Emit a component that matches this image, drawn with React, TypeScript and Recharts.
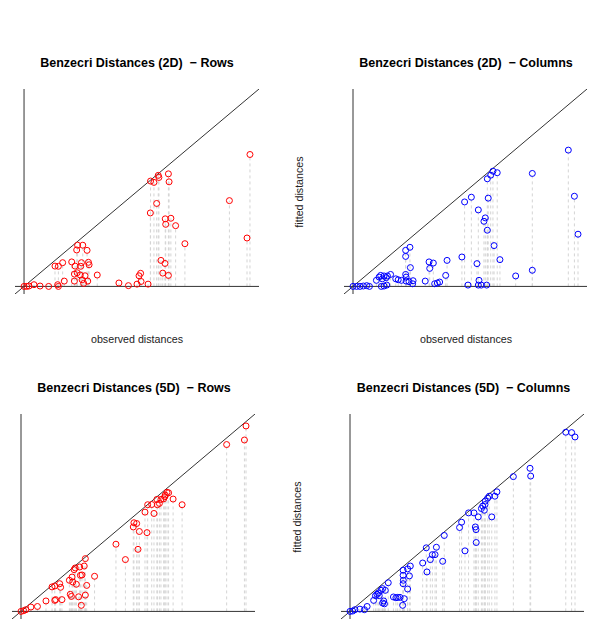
import React from 'react';
import { ScatterChart, Scatter, XAxis, YAxis, ReferenceLine } from 'recharts';

// Pairs of [observed distance, fitted distance], scaled so the largest observed distance is 1.
const rows2D: [number, number][] = [
  [0, 0], [0.012, 0], [0.022, 0.002], [0.044, 0.009], [0.071, 0.002], [0.109, 0], [0.149, 0.009],
  [0.152, 0], [0.178, 0.028], [0.137, 0.107], [0.152, 0.106], [0.171, 0.125], [0.211, 0.129],
  [0.226, 0.107], [0.254, 0.125], [0.251, 0.106], [0.285, 0.127], [0.288, 0.114], [0.237, 0.217],
  [0.26, 0.217], [0.233, 0.192], [0.279, 0.19], [0.223, 0.065], [0.235, 0.072], [0.249, 0.06],
  [0.27, 0.056], [0.223, 0.028], [0.257, 0.035], [0.264, 0.016], [0.282, 0.028], [0.324, 0.06],
  [0.42, 0.018], [0.462, 0.004], [0.5, 0.012], [0.509, 0.056], [0.516, 0.069], [0.518, 0.026],
  [0.549, 0.012], [0.56, 0.555], [0.575, 0.548], [0.594, 0.585], [0.597, 0.574], [0.639, 0.593],
  [0.642, 0.551], [0.587, 0.437], [0.559, 0.387], [0.625, 0.356], [0.65, 0.359], [0.627, 0.327],
  [0.671, 0.32], [0.606, 0.137], [0.624, 0.121], [0.614, 0.07], [0.639, 0.058], [0.712, 0.225],
  [0.909, 0.452], [0.987, 0.255], [1.0, 0.695],
];

const cols2D: [number, number][] = [
  [0, 0], [0.016, 0], [0.031, 0], [0.046, 0.002], [0.061, 0.004], [0.073, 0],
  [0.104, 0.032], [0.116, 0.049], [0.123, 0.058], [0.13, 0.04], [0.138, 0.055], [0.148, 0.046],
  [0.153, 0.055], [0.167, 0.063], [0.126, 0], [0.138, 0.002], [0.15, 0.007],
  [0.19, 0.04], [0.201, 0.035], [0.215, 0.032], [0.234, 0.063], [0.236, 0.049], [0.236, 0.028],
  [0.249, 0.025], [0.267, 0.03], [0.265, 0.014], [0.255, 0.099], [0.234, 0.158], [0.234, 0.19],
  [0.253, 0.206], [0.321, 0.028], [0.338, 0.129], [0.341, 0.095], [0.357, 0.123],
  [0.363, 0.014], [0.375, 0.018], [0.385, 0.023], [0.412, 0.058], [0.418, 0.137], [0.484, 0.155],
  [0.511, 0.007], [0.551, 0.12], [0.56, 0.032], [0.557, 0.007], [0.57, 0.007], [0.594, 0.007],
  [0.653, 0.141], [0.627, 0.215], [0.723, 0.055], [0.797, 0.085],
  [0.496, 0.445], [0.526, 0.47], [0.557, 0.403], [0.582, 0.343], [0.588, 0.361], [0.597, 0.296],
  [0.601, 0.465], [0.597, 0.567], [0.612, 0.586], [0.622, 0.607], [0.641, 0.599], [0.797, 0.595],
  [0.957, 0.718], [0.984, 0.475], [1.0, 0.275],
];

const rows5D: [number, number][] = [
  [0, 0], [0.012, 0.004], [0.022, 0.009], [0.044, 0.023], [0.073, 0.026], [0.111, 0.055],
  [0.15, 0.058], [0.154, 0.062], [0.182, 0.062], [0.138, 0.129], [0.15, 0.134], [0.172, 0.146],
  [0.176, 0.127], [0.215, 0.164], [0.224, 0.079], [0.219, 0.09], [0.227, 0.181], [0.23, 0.155],
  [0.236, 0.22], [0.241, 0.229], [0.246, 0.143], [0.256, 0.077], [0.261, 0.234], [0.264, 0.19],
  [0.271, 0.192], [0.268, 0.032], [0.281, 0.239], [0.286, 0.086], [0.292, 0.137], [0.286, 0.278],
  [0.327, 0.185], [0.422, 0.354], [0.464, 0.273], [0.52, 0.327], [0.499, 0.445], [0.502, 0.467],
  [0.514, 0.463], [0.526, 0.421], [0.56, 0.415], [0.551, 0.523], [0.563, 0.562], [0.581, 0.563],
  [0.591, 0.516], [0.606, 0.562], [0.615, 0.569], [0.604, 0.59], [0.622, 0.59], [0.634, 0.593],
  [0.641, 0.613], [0.649, 0.627], [0.656, 0.625], [0.639, 0.604], [0.676, 0.592], [0.716, 0.562],
  [0.914, 0.879], [0.993, 0.903], [1.0, 0.977],
];

const cols5D: [number, number][] = [
  [0, 0], [0.012, 0.002], [0.022, 0.009], [0.044, 0.012], [0.064, 0.009], [0.076, 0.026],
  [0.105, 0.058], [0.113, 0.083], [0.12, 0.09], [0.126, 0.097], [0.13, 0.083], [0.138, 0.111],
  [0.145, 0.12], [0.15, 0.055], [0.145, 0.044], [0.153, 0.04], [0.157, 0.111], [0.17, 0.151],
  [0.193, 0.076], [0.204, 0.072], [0.212, 0.074], [0.222, 0.074], [0.234, 0.032], [0.241, 0.067],
  [0.236, 0.217], [0.236, 0.19], [0.237, 0.164], [0.236, 0.146], [0.256, 0.118], [0.264, 0.187],
  [0.268, 0.239], [0.256, 0.224], [0.323, 0.255], [0.339, 0.335], [0.342, 0.208], [0.357, 0.273],
  [0.366, 0.299], [0.378, 0.299], [0.384, 0.338], [0.412, 0.264], [0.419, 0.4],
  [0.487, 0.442], [0.496, 0.47], [0.511, 0.319], [0.527, 0.519], [0.551, 0.519], [0.557, 0.445],
  [0.56, 0.431], [0.561, 0.363], [0.57, 0.498], [0.584, 0.542], [0.59, 0.555], [0.597, 0.533],
  [0.6, 0.563], [0.601, 0.581], [0.612, 0.597], [0.619, 0.607], [0.63, 0.498], [0.644, 0.607],
  [0.653, 0.63], [0.726, 0.71], [0.8, 0.754], [0.803, 0.713],
  [0.959, 0.944], [0.985, 0.942], [1.0, 0.919],
];

const titles = [
  'Benzecri Distances (2D)  \u2212 Rows',
  'Benzecri Distances (2D)  \u2212 Columns',
  'Benzecri Distances (5D)  \u2212 Rows',
  'Benzecri Distances (5D)  \u2212 Columns',
];
const xLabel = 'observed distances';
const yLabel = 'fitted distances';

const ROW_COLOR = '#ff0000';
const COL_COLOR = '#0000ff';
const LINE_COLOR = '#333333';
const DROP_COLOR = '#d4d4d4';
// R-style axis range: 4% padding around [0, max]
const DOMAIN: [number, number] = [-0.04, 1.04];
const FONT = '"Liberation Sans", Arial, Helvetica, sans-serif';

type PanelProps = {
  data: [number, number][];
  color: string;
  left: number;
  top: number;
  width: number;
  height: number;
};

function Panel({ data, color, left, top, width, height }: PanelProps) {
  const points = data.map(([observed, fitted]) => ({ observed, fitted }));
  return (
    <div style={{ position: 'absolute', left, top }}>
      <ScatterChart
        width={width}
        height={height}
        margin={{ top: 0, right: 0, bottom: 0, left: 0 }}
        style={{ overflow: 'visible' }}
      >
        <XAxis type="number" dataKey="observed" domain={DOMAIN} allowDataOverflow hide />
        <YAxis type="number" dataKey="fitted" domain={DOMAIN} allowDataOverflow hide />
        {points.map((p, i) => (
          <ReferenceLine
            key={`drop-${i}`}
            segment={[
              { x: p.observed, y: 0 },
              { x: p.observed, y: p.fitted },
            ]}
            stroke={DROP_COLOR}
            strokeWidth={1}
            strokeDasharray="3 3"
          />
        ))}
        <ReferenceLine y={0} stroke={LINE_COLOR} strokeWidth={1} />
        <ReferenceLine x={0} stroke={LINE_COLOR} strokeWidth={1} />
        <ReferenceLine
          segment={[
            { x: DOMAIN[0], y: DOMAIN[0] },
            { x: DOMAIN[1], y: DOMAIN[1] },
          ]}
          stroke={LINE_COLOR}
          strokeWidth={1}
        />
        <Scatter
          data={points}
          isAnimationActive={false}
          shape={(props: any) => (
            <circle cx={props.cx} cy={props.cy} r={3} fill="none" stroke={color} strokeWidth={1} />
          )}
        />
      </ScatterChart>
    </div>
  );
}

export default function App() {
  const titleStyle: React.CSSProperties = { whiteSpace: 'pre' };
  return (
    <div
      style={{
        position: 'absolute',
        left: 0,
        top: 0,
        width: 589,
        height: 638,
        background: '#ffffff',
        overflow: 'hidden',
      }}
    >
      <Panel data={rows2D} color={ROW_COLOR} left={15} top={89} width={244} height={205} />
      <Panel data={cols2D} color={COL_COLOR} left={344} top={89} width={243} height={205} />
      <Panel data={rows5D} color={ROW_COLOR} left={12} top={414} width={243} height={205} />
      <Panel data={cols5D} color={COL_COLOR} left={341} top={414} width={243} height={205} />
      <svg
        width={589}
        height={638}
        style={{ position: 'absolute', left: 0, top: 0, pointerEvents: 'none' }}
        fontFamily={FONT}
      >
        <g fontSize={12.5} fontWeight="bold" fill="#000" textAnchor="middle">
          <text x={137} y={67} style={titleStyle}>{titles[0]}</text>
          <text x={466} y={67} style={titleStyle}>{titles[1]}</text>
          <text x={134} y={392} style={titleStyle}>{titles[2]}</text>
          <text x={463.5} y={392} style={titleStyle}>{titles[3]}</text>
        </g>
        <g fontSize={10.7} fill="#222" textAnchor="middle">
          <text x={137} y={343}>{xLabel}</text>
          <text x={466} y={343}>{xLabel}</text>
          <text x={303} y={192} transform="rotate(-90 303 192)">{yLabel}</text>
          <text x={301} y={517} transform="rotate(-90 301 517)">{yLabel}</text>
        </g>
      </svg>
    </div>
  );
}
